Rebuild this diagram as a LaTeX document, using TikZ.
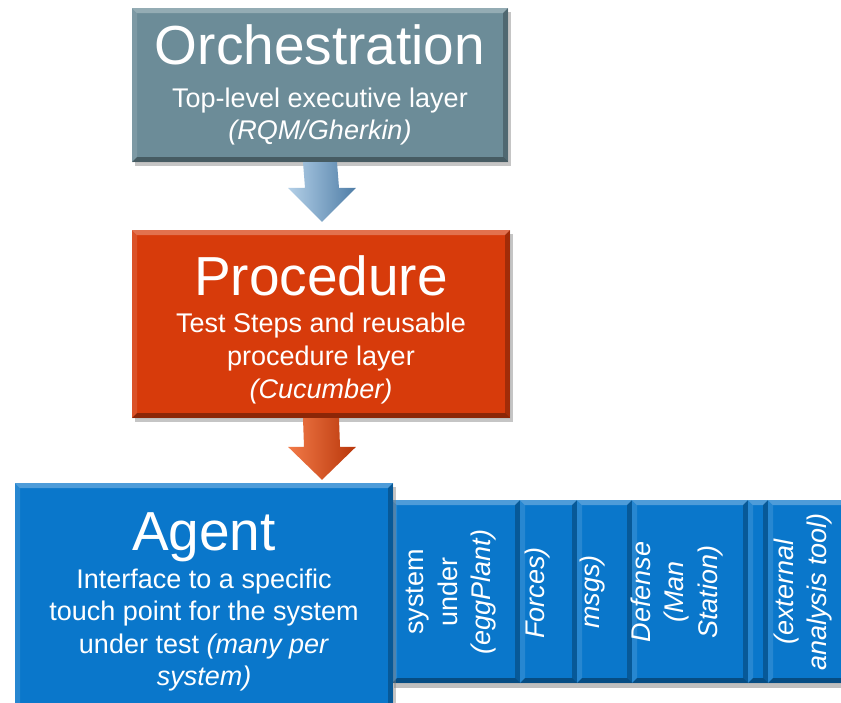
\documentclass[tikz,border=0pt]{standalone}
\usepackage{fontspec}
\setmainfont{Liberation Sans}
\usetikzlibrary{calc,shadows}
\definecolor{orchc}{HTML}{6C8C98}
\definecolor{procc}{HTML}{D73B0B}
\definecolor{agentc}{HTML}{0A77CB}
\definecolor{arrbL}{HTML}{B4D0E8}
\definecolor{arrbR}{HTML}{4E7DA6}
\definecolor{arroL}{HTML}{F27A48}
\definecolor{arroR}{HTML}{B8360A}
\tikzset{
  bevel/.style={path picture={
    \coordinate (bnw) at (path picture bounding box.north west);
    \coordinate (bne) at (path picture bounding box.north east);
    \coordinate (bsw) at (path picture bounding box.south west);
    \coordinate (bse) at (path picture bounding box.south east);
    \fill[white,opacity=.28] (bnw) -- (bne) -- ([xshift=-5pt,yshift=-5pt]bne) -- ([xshift=5pt,yshift=-5pt]bnw) -- cycle;
    \fill[white,opacity=.12] (bnw) -- ([xshift=5pt,yshift=-5pt]bnw) -- ([xshift=5pt,yshift=5pt]bsw) -- (bsw) -- cycle;
    \fill[black,opacity=.25] (bne) -- (bse) -- ([xshift=-5pt,yshift=5pt]bse) -- ([xshift=-5pt,yshift=-5pt]bne) -- cycle;
    \fill[black,opacity=.35] (bsw) -- (bse) -- ([xshift=-5pt,yshift=5pt]bse) -- ([xshift=5pt,yshift=5pt]bsw) -- cycle;
  }},
  layerbox/.style={rectangle, inner sep=0pt, draw=none, fill=#1, bevel,
    drop shadow={shadow xshift=3pt, shadow yshift=-4pt, opacity=0.45}},
  stripbox/.style={rectangle, inner sep=0pt, draw=none, fill=agentc, bevel,
    drop shadow={shadow xshift=2pt, shadow yshift=-5pt, opacity=0.5}},
  titletxt/.style={text=white, anchor=base, inner sep=0pt, font=\fontsize{55}{60}\selectfont},
  bodytxt/.style={text=white, anchor=base, inner sep=0pt, font=\fontsize{27}{33}\selectfont},
  vtxt/.style={text=white, rotate=90, align=center, inner sep=0pt, font=\fontsize{27}{33.5}\selectfont},
  blockarrow/.style={draw=none, left color=#1L, right color=#1R},
}
\begin{document}
\begin{tikzpicture}[x=1pt,y=-1pt]
\useasboundingbox (0,0) rectangle (841,702);
\clip (0,0) rectangle (841,702);
\fill[white] (0,0) rectangle (841,702);

% Layer boxes
\node[layerbox=orchc, minimum width=376pt, minimum height=154pt] (orch) at (320,85) {};
\node[layerbox=procc, minimum width=378pt, minimum height=188pt] (proc) at (321,324) {};

% strips (behind the agent box)
\node[stripbox, minimum width=128pt, minimum height=183pt] (s1) at (456,591.5) {};
\node[stripbox, minimum width=57pt, minimum height=183pt] (s2) at (548.5,591.5) {};
\node[stripbox, minimum width=55pt, minimum height=183pt] (s3) at (604.5,591.5) {};
\node[stripbox, minimum width=116pt, minimum height=183pt] (s4) at (690,591.5) {};
\node[stripbox, minimum width=20pt, minimum height=183pt] (s5) at (758,591.5) {};
\node[stripbox, minimum width=102pt, minimum height=183pt] (s6) at (819,591.5) {};

\node[layerbox=agentc, minimum width=378pt, minimum height=240pt] (agent) at (204,603) {};

% Orchestration text
\node[titletxt] (t1) at (320,64) {Orchestration};
\node[bodytxt] (t1a) at (320,107) {Top-level executive layer};
\node[bodytxt] (t1b) at (320,139) {\itshape (RQM/Gherkin)};

% Procedure text
\node[titletxt] (t2) at (321,295) {Procedure};
\node[bodytxt] (t2a) at (321,332) {Test Steps and reusable};
\node[bodytxt] (t2b) at (321,365) {procedure layer};
\node[bodytxt] (t2c) at (321,398) {\itshape (Cucumber)};

% Agent text
\node[titletxt] (t3) at (204,550) {Agent};
\node[bodytxt] (t3a) at (204,588) {Interface to a specific};
\node[bodytxt] (t3b) at (204,620) {touch point for the system};
\node[bodytxt] (t3c) at (204,653) {under test \textit{(many per}};
\node[bodytxt] (t3d) at (204,685) {\itshape system)};

% strip texts
\node[vtxt] (v1) at (451.5,592) {system\\under\\\textit{(eggPlant)}};
\node[vtxt] (v2) at (538,593) {\itshape Forces)};
\node[vtxt] (v3) at (593,592) {\itshape msgs)};
\node[vtxt] (v4) at (677,592) {\itshape Defense\\\itshape (Man\\\itshape Station)};
\node[vtxt] (v6) at (803,592) {\itshape (external\\\itshape analysis tool)};

% block arrows between layers
\coordinate (a1e) at ($(proc.north)+(1,-8)$);
\coordinate (a1s) at ($(orch.south)+(0,0)$);
\path[blockarrow=arrb] ($(a1s)+(-17,0)$) -- ($(a1s)+(17,0)$) -- ($(a1e)+(17,-34)$) -- ($(a1e)+(34,-34)$)
  -- (a1e) -- ($(a1e)+(-34,-34)$) -- ($(a1e)+(-17,-34)$) -- cycle;
\coordinate (a2e) at ($(agent.north)+(118,-3)$);
\coordinate (a2s) at ($(proc.south)+(0,0)$);
\path[blockarrow=arro] ($(a2s)+(-18,0)$) -- ($(a2s)+(18,0)$) -- ($(a2e)+(18,-33)$) -- ($(a2e)+(34,-33)$)
  -- (a2e) -- ($(a2e)+(-34,-33)$) -- ($(a2e)+(-18,-33)$) -- cycle;
\end{tikzpicture}
\end{document}
